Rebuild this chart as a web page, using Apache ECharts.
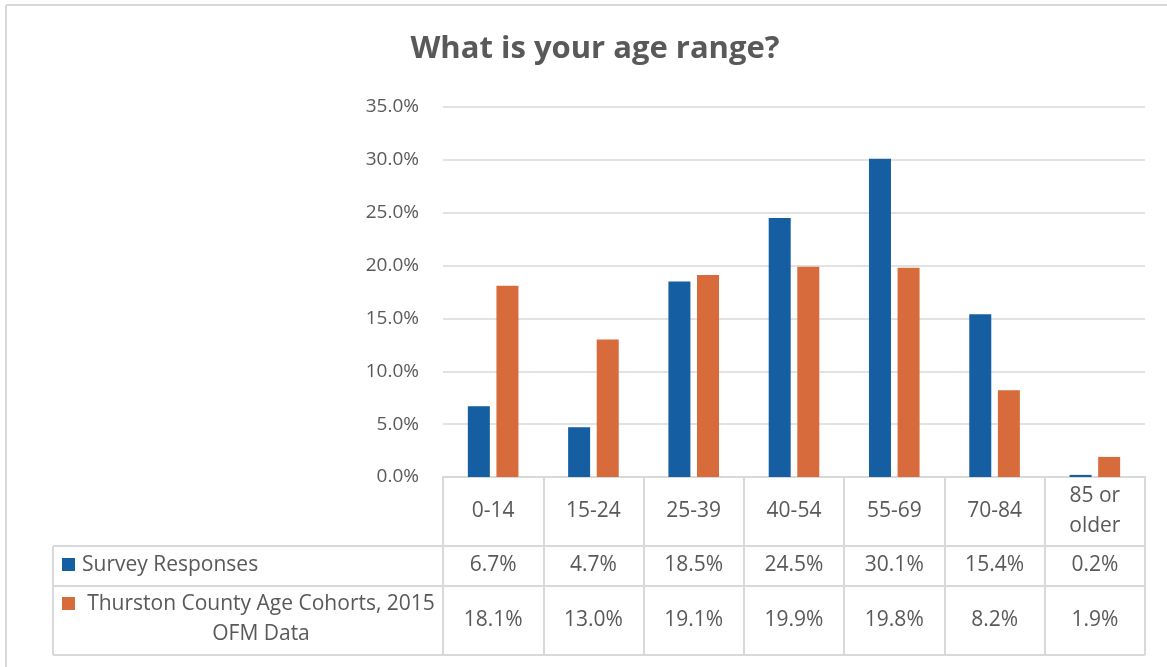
<!DOCTYPE html>
<html><head><meta charset="utf-8">
<script src="https://cdn.jsdelivr.net/npm/echarts@6/dist/echarts.min.js"></script>
<style>html,body{margin:0;padding:0;background:#fff}#c{width:1167px;height:667px}</style>
</head><body><div id="c"></div>
<script>
const titleText = 'What is your age range?';
const categories = ['0-14', '15-24', '25-39', '40-54', '55-69', '70-84', '85 or\nolder'];
const surveyResponses = [6.7, 4.7, 18.5, 24.5, 30.1, 15.4, 0.2];
const thurstonCohorts = [18.1, 13.0, 19.1, 19.9, 19.8, 8.2, 1.9];
const seriesNames = ['Survey Responses', 'Thurston County Age Cohorts, 2015\nOFM Data'];
const yMin = 0, yMax = 35, yStep = 5;

const FONT = '"Open Sans", Lato, sans-serif';
const FS_Y = 19;
const FS = 21;
const TXT = '#595959';
const LINE = '#d9d9d9';
const BLUE = '#155ea2';
const ORANGE = '#d76b3b';
const fmt = v => v.toFixed(1) + '%';

const chart = echarts.init(document.getElementById('c'), null, {renderer: 'canvas'});

function hiddenAxis(data, margin) {
  return {
    type: 'category', data: data, position: 'bottom', gridIndex: 0,
    axisLine: {show: false}, axisTick: {show: false}, splitLine: {show: false},
    axisLabel: {interval: 0, margin: margin, verticalAlign: 'middle', fontSize: FS, color: TXT, fontFamily: FONT}
  };
}

const option = {
  animation: false,
  backgroundColor: '#fff',
  title: {
    text: titleText, left: 590, top: 29, textAlign: 'center',
    textStyle: {fontFamily: FONT, fontWeight: 'bold', fontSize: 31, color: TXT}
  },
  grid: {left: 443, right: 22, top: 107, bottom: 190, containLabel: false},
  xAxis: [
    {
      type: 'category', data: categories, position: 'bottom',
      axisLine: {show: true, lineStyle: {color: LINE, width: 2}},
      axisTick: {show: true, length: 178, lineStyle: {color: LINE, width: 2}},
      splitLine: {show: false},
      axisLabel: {interval: 0, margin: 34, verticalAlign: 'middle', lineHeight: 30, fontSize: FS, color: TXT, fontFamily: FONT}
    },
    hiddenAxis(surveyResponses.map(fmt), 88),
    hiddenAxis(thurstonCohorts.map(fmt), 143)
  ],
  yAxis: {
    type: 'value', min: yMin, max: yMax, interval: yStep,
    axisLine: {show: false}, axisTick: {show: false},
    splitLine: {lineStyle: {color: LINE, width: 1.5}},
    axisLabel: {margin: 24, formatter: fmt, fontSize: FS_Y, color: TXT, fontFamily: FONT}
  },
  series: [
    {name: seriesNames[0], type: 'bar', data: surveyResponses, barWidth: 22, barGap: '30%', itemStyle: {color: BLUE}, silent: true},
    {name: seriesNames[1], type: 'bar', data: thurstonCohorts, barWidth: 22, barGap: '30%', itemStyle: {color: ORANGE}, silent: true}
  ],
  graphic: [
    {type: 'line', shape: {x1: 6, y1: 5, x2: 6, y2: 667}, style: {stroke: LINE, lineWidth: 2}, silent: true},
    {type: 'line', shape: {x1: 6, y1: 5, x2: 1167, y2: 5}, style: {stroke: LINE, lineWidth: 2}, silent: true},
    {type: 'line', shape: {x1: 53, y1: 546, x2: 1145, y2: 546}, style: {stroke: LINE, lineWidth: 2}, silent: true},
    {type: 'line', shape: {x1: 53, y1: 586, x2: 1145, y2: 586}, style: {stroke: LINE, lineWidth: 2}, silent: true},
    {type: 'line', shape: {x1: 53, y1: 655, x2: 1145, y2: 655}, style: {stroke: LINE, lineWidth: 2}, silent: true},
    {type: 'line', shape: {x1: 53, y1: 546, x2: 53, y2: 655}, style: {stroke: LINE, lineWidth: 2}, silent: true},
    {type: 'rect', shape: {x: 62, y: 558, width: 13, height: 13}, style: {fill: BLUE}, silent: true},
    {type: 'text', x: 82, y: 565, style: {text: seriesNames[0], fill: TXT, font: FS + 'px ' + FONT, textAlign: 'left', verticalAlign: 'middle'}, silent: true},
    {type: 'rect', shape: {x: 62, y: 597, width: 13, height: 13}, style: {fill: ORANGE}, silent: true},
    {type: 'text', x: 261, y: 619, style: {text: seriesNames[1], fill: TXT, font: FS + 'px ' + FONT, textAlign: 'center', verticalAlign: 'middle', lineHeight: 30}, silent: true}
  ]
};
chart.setOption(option);
</script>
</body></html>
